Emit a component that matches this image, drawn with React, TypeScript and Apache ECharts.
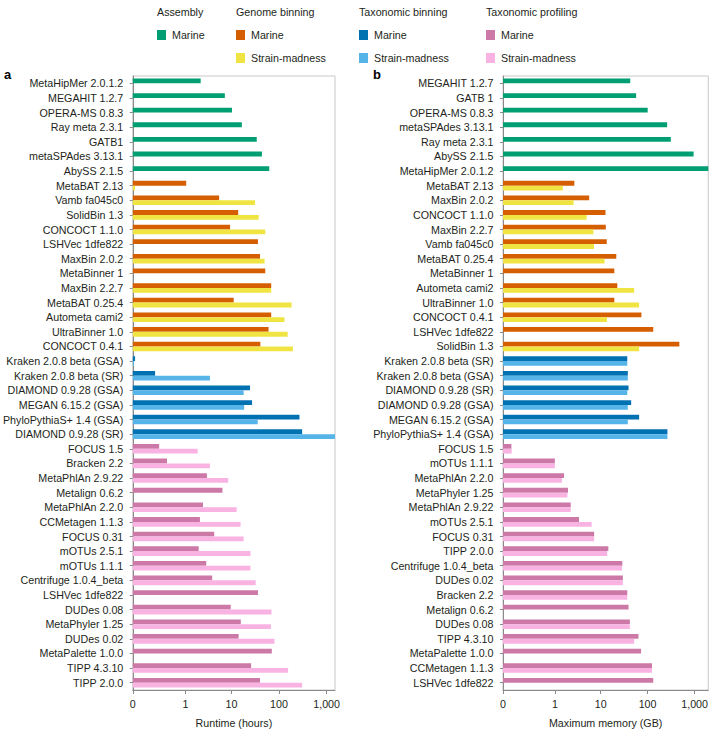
import React, { useEffect, useRef } from "react";
import * as echarts from "echarts";

// ---------- data ----------
const groupNames = ["Assembly", "Genome binning", "Taxonomic binning", "Taxonomic profiling"];
const groupSizes = [7, 12, 6, 17];
const marineColors = ["#009E73", "#D55E00", "#0072B2", "#CC79A7"];
const strainColors = ["#009E73", "#F0E442", "#56B4E9", "#F9B3E3"];

const tickValues = [0, 1, 10, 100, 1000];
const tickLabels = ["0", "1", "10", "100", "1,000"];

const runtimeTools = [
  "MetaHipMer 2.0.1.2", "MEGAHIT 1.2.7", "OPERA-MS 0.8.3", "Ray meta 2.3.1", "GATB1", "metaSPAdes 3.13.1", "AbySS 2.1.5",
  "MetaBAT 2.13", "Vamb fa045c0", "SolidBin 1.3", "CONCOCT 1.1.0", "LSHVec 1dfe822", "MaxBin 2.0.2", "MetaBinner 1",
  "MaxBin 2.2.7", "MetaBAT 0.25.4", "Autometa cami2", "UltraBinner 1.0", "CONCOCT 0.4.1",
  "Kraken 2.0.8 beta (GSA)", "Kraken 2.0.8 beta (SR)", "DIAMOND 0.9.28 (GSA)", "MEGAN 6.15.2 (GSA)",
  "PhyloPythiaS+ 1.4 (GSA)", "DIAMOND 0.9.28 (SR)",
  "FOCUS 1.5", "Bracken 2.2", "MetaPhlAn 2.9.22", "Metalign 0.6.2", "MetaPhlAn 2.2.0", "CCMetagen 1.1.3", "FOCUS 0.31",
  "mOTUs 2.5.1", "mOTUs 1.1.1", "Centrifuge 1.0.4_beta", "LSHVec 1dfe822", "DUDes 0.08", "MetaPhyler 1.25",
  "DUDes 0.02", "MetaPalette 1.0.0", "TIPP 4.3.10", "TIPP 2.0.0",
];
const runtimeMarine = [
  2.18, 7.2, 10.2, 16.5, 34, 43.7, 62.3,
  1.04, 5.44, 13.8, 9.3, 36.1, 39.8, 51.4, 68.5, 11.1, 68.5, 60.2, 40.5,
  0.01, 0.165, 24.6, 27.1, 269, 306,
  0.219, 0.36, 2.98, 6.4, 2.45, 2.1, 4.27, 1.97, 2.88, 3.87, 36.1, 9.6, 15.7, 14.1, 70.6, 25.9, 39.8,
];
const runtimeStrain = [
  null, null, null, null, null, null, null,
  0.01, 31.3, 37.3, 51.4, null, 49.7, null, 68.5, 184, 130, 152, 196,
  0.005, 3.46, 18, 18.5, 35.6, 1600,
  1.87, 3.46, 8.5, null, 12.8, 15.5, 18, 25.1, 25.1, 32.3, null, 69.5, 67.5, 80.3, null, 155, 306,
];

const memoryTools = [
  "MEGAHIT 1.2.7", "GATB 1", "OPERA-MS 0.8.3", "metaSPAdes 3.13.1", "Ray meta 2.3.1", "AbySS 2.1.5", "MetaHipMer 2.0.1.2",
  "MetaBAT 2.13", "MaxBin 2.0.2", "CONCOCT 1.1.0", "MaxBin 2.2.7", "Vamb fa045c0", "MetaBAT 0.25.4", "MetaBinner 1",
  "Autometa cami2", "UltraBinner 1.0", "CONCOCT 0.4.1", "LSHVec 1dfe822", "SolidBin 1.3",
  "Kraken 2.0.8 beta (SR)", "Kraken 2.0.8 beta (GSA)", "DIAMOND 0.9.28 (SR)", "DIAMOND 0.9.28 (GSA)",
  "MEGAN 6.15.2 (GSA)", "PhyloPythiaS+ 1.4 (GSA)",
  "FOCUS 1.5", "mOTUs 1.1.1", "MetaPhlAn 2.2.0", "MetaPhyler 1.25", "MetaPhlAn 2.9.22", "mOTUs 2.5.1", "FOCUS 0.31",
  "TIPP 2.0.0", "Centrifuge 1.0.4_beta", "DUDes 0.02", "Bracken 2.2", "Metalign 0.6.2", "DUDes 0.08", "TIPP 4.3.10",
  "MetaPalette 1.0.0", "CCMetagen 1.1.3", "LSHVec 1dfe822",
];
const memoryMarine = [
  42.8, 57.1, 100.5, 261, 312, 951, 2100,
  2.7, 5.67, 12.7, 12.9, 13.5, 21.6, 19.6, 22.7, 19.6, 74, 132, 473,
  37, 38, 39.4, 44.8, 66.1, 264,
  0.043, 0.99, 1.6, 1.96, 2.25, 3.41, 7.25, 14.6, 29, 29.8, 37, 39.4, 42, 64, 72.8, 124, 132,
];
const memoryStrain = [
  null, null, null, null, null, null, null,
  1.5, 2.6, 5.0, 7.0, 7.2, 12.1, null, 51.9, 66.1, 13.7, null, 66.1,
  37, 38, 37, 38, 38, 264,
  0.045, 0.99, 1.43, 1.9, 2.25, 6.4, 7.25, 13.8, 28.6, 29.8, 37, null, 42, 51.9, null, 124, null,
];

const runtimeMax = 1500;
const memoryMax = 1950;

// ---------- helpers ----------
const OFFSET = 0.085;
const tr = (v: number) => Math.log10(v / OFFSET + 1);
const tickT = tickValues.map(tr);

function groupOf(i: number): number {
  let acc = 0;
  for (let g = 0; g < groupSizes.length; g++) {
    acc += groupSizes[g];
    if (i < acc) return g;
  }
  return groupSizes.length - 1;
}

function toData(vals: (number | null)[], colors: string[]) {
  return vals.map((v, i) =>
    v == null ? "-" : { value: tr(v), itemStyle: { color: colors[groupOf(i)] } }
  );
}

const FONT = "Liberation Sans, Arial, Helvetica, sans-serif";
const TXT = "#231f20";
const FS = 10.7;

function xAxisFor(gridIndex: number, maxV: number, name: string) {
  return {
    type: "value",
    gridIndex,
    min: 0,
    max: tr(maxV),
    name,
    nameLocation: "middle",
    nameGap: 27,
    nameTextStyle: { fontSize: FS, color: TXT, fontFamily: FONT },
    axisLine: { show: true, lineStyle: { color: "#8a8a8a", width: 1 } },
    axisTick: { show: true, customValues: tickT, length: 4, lineStyle: { color: "#8a8a8a" } },
    axisLabel: {
      customValues: tickT,
      margin: 8,
      fontSize: FS,
      color: TXT,
      fontFamily: FONT,
      formatter: (val: number) => {
        const i = tickT.findIndex((t) => Math.abs(t - val) < 1e-6);
        return i >= 0 ? tickLabels[i] : "";
      },
    },
    splitLine: { show: false },
  };
}

function yAxisFor(gridIndex: number, tools: string[]) {
  return {
    type: "category",
    gridIndex,
    inverse: true,
    data: tools,
    axisLine: { show: true, lineStyle: { color: "#8a8a8a", width: 1 } },
    axisTick: { show: true, alignWithLabel: true, length: 3, lineStyle: { color: "#8a8a8a" } },
    axisLabel: { fontSize: FS, color: TXT, fontFamily: FONT, margin: 9.5, interval: 0 },
    splitLine: { show: false },
  };
}

function legendGraphics() {
  const xs = [157, 236, 359, 486];
  const els: any[] = [];
  groupNames.forEach((g, gi) => {
    const x = xs[gi];
    els.push({
      type: "text",
      left: x,
      top: 6,
      style: { text: g, fontSize: FS, fill: TXT, fontFamily: FONT },
    });
    els.push({ type: "rect", shape: { x, y: 30, width: 9, height: 10 }, style: { fill: marineColors[gi] } });
    els.push({
      type: "text",
      left: x + 15,
      top: 29,
      style: { text: "Marine", fontSize: FS, fill: TXT, fontFamily: FONT },
    });
    if (gi > 0) {
      els.push({ type: "rect", shape: { x, y: 53, width: 9, height: 10 }, style: { fill: strainColors[gi] } });
      els.push({
        type: "text",
        left: x + 15,
        top: 52,
        style: { text: "Strain-madness", fontSize: FS, fill: TXT, fontFamily: FONT },
      });
    }
  });
  els.push({
    type: "text",
    left: 4,
    top: 68,
    style: { text: "a", fontSize: 13, fontWeight: "bold", fill: "#000", fontFamily: FONT },
  });
  els.push({
    type: "text",
    left: 373,
    top: 68,
    style: { text: "b", fontSize: 13, fontWeight: "bold", fill: "#000", fontFamily: FONT },
  });
  return els;
}

export default function App() {
  const ref = useRef<HTMLDivElement>(null);
  useEffect(() => {
    if (!ref.current) return;
    const chart = echarts.init(ref.current, null, { renderer: "svg" });
    const barW = 4.8;
    chart.setOption({
      animation: false,
      backgroundColor: "#ffffff",
      textStyle: { fontFamily: FONT },
      grid: [
        { left: 129, top: 76, width: 206, height: 617, show: true, borderColor: "#c8c8c8", borderWidth: 1, containLabel: false },
        { left: 503, top: 76, width: 207, height: 617, show: true, borderColor: "#c8c8c8", borderWidth: 1, containLabel: false },
      ],
      xAxis: [xAxisFor(0, runtimeMax, "Runtime (hours)"), xAxisFor(1, memoryMax, "Maximum memory (GB)")],
      yAxis: [yAxisFor(0, runtimeTools), yAxisFor(1, memoryTools)],
      graphic: legendGraphics(),
      series: [
        { type: "bar", name: "Marine", xAxisIndex: 0, yAxisIndex: 0, barWidth: barW, barGap: "0%", clip: true, data: toData(runtimeMarine, marineColors) },
        { type: "bar", name: "Strain-madness", xAxisIndex: 0, yAxisIndex: 0, barWidth: barW, barGap: "0%", clip: true, data: toData(runtimeStrain, strainColors) },
        { type: "bar", name: "Marine", xAxisIndex: 1, yAxisIndex: 1, barWidth: barW, barGap: "0%", clip: true, data: toData(memoryMarine, marineColors) },
        { type: "bar", name: "Strain-madness", xAxisIndex: 1, yAxisIndex: 1, barWidth: barW, barGap: "0%", clip: true, data: toData(memoryStrain, strainColors) },
      ],
    });
    return () => chart.dispose();
  }, []);
  return (
    <div
      ref={ref}
      style={{ position: "absolute", left: 0, top: 0, width: 711, height: 733, background: "#fff" }}
    />
  );
}
